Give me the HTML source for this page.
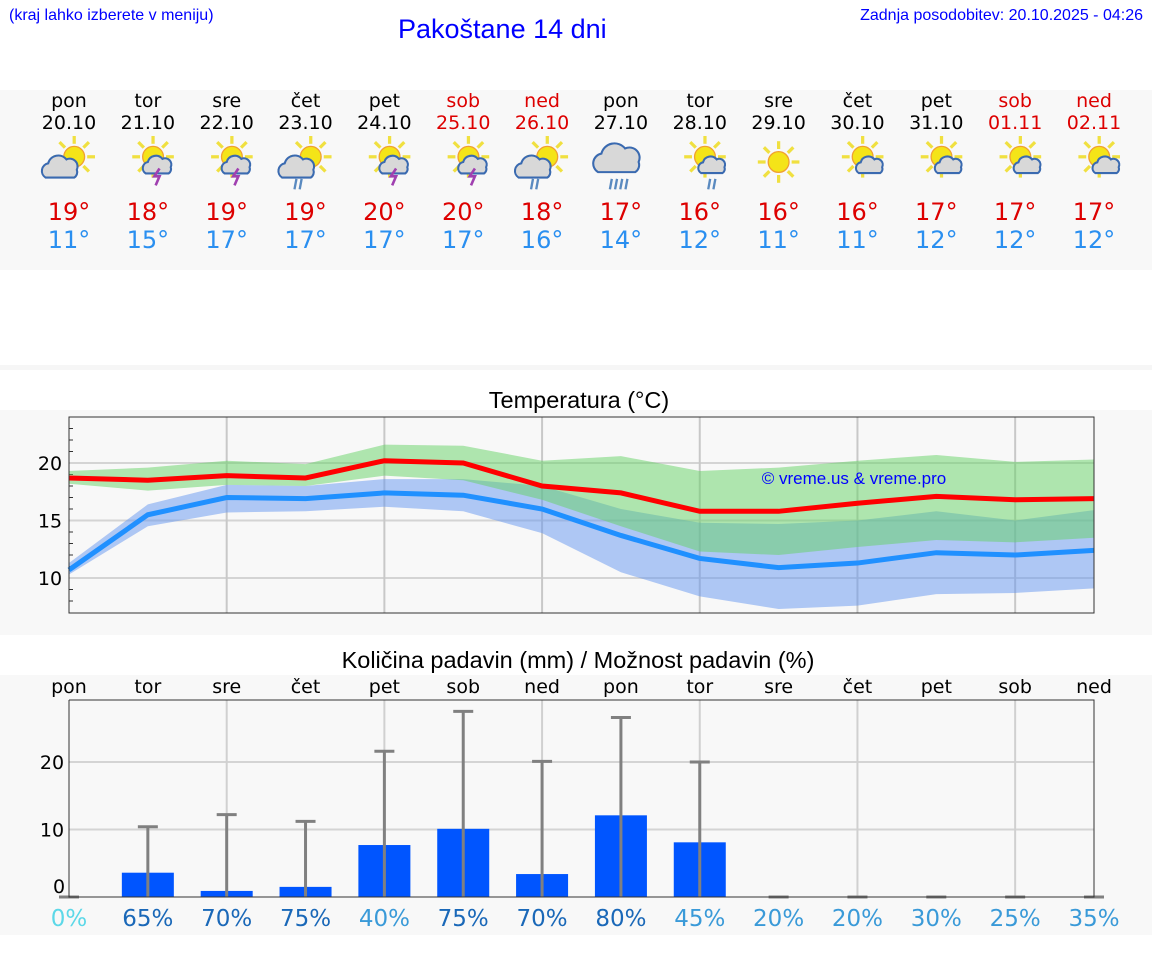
<!DOCTYPE html>
<html><head><meta charset="utf-8"><style>
body{margin:0;width:1152px;height:975px;background:#fff;font-family:"DejaVu Sans","Liberation Sans",sans-serif;position:relative;overflow:hidden}
.a{position:absolute}
</style></head><body>
<div class="a" style="left:9px;top:7px;font-size:16px;color:#00f;font-family:'Liberation Sans',sans-serif">(kraj lahko izberete v meniju)</div>
<div class="a" style="left:398px;top:14px;font-size:27px;color:#00f;font-family:'Liberation Sans',sans-serif">Pakoštane 14 dni</div>
<div class="a" style="right:9px;top:7px;font-size:16px;color:#00f;font-family:'Liberation Sans',sans-serif">Zadnja posodobitev: 20.10.2025 - 04:26</div>
<div class="a" style="left:0;top:90px;width:1152px;height:180px;background:#f8f8f8"></div>
<div class="a" style="left:0;top:365px;width:1152px;height:5px;background:#f6f6f6"></div>
<div class="a" style="left:0;top:410px;width:1152px;height:225px;background:#f8f8f8"></div>
<div class="a" style="left:0;top:675px;width:1152px;height:260px;background:#f8f8f8"></div>
<svg id="chart" class="a" style="left:0;top:0" width="1152" height="975"></svg>
<script>
const dayNames=["pon","tor","sre","čet","pet","sob","ned","pon","tor","sre","čet","pet","sob","ned"];
const dates=["20.10","21.10","22.10","23.10","24.10","25.10","26.10","27.10","28.10","29.10","30.10","31.10","01.11","02.11"];
const hiTemps=[19,18,19,19,20,20,18,17,16,16,16,17,17,17];
const loTemps=[11,15,17,17,17,17,16,14,12,11,11,12,12,12];
const icons=["pc","ts","ts","pr","ts","ts","pr","rain","sr","sun","sc","sc","sc","sc"];
const maxLine=[18.7,18.5,18.9,18.7,20.2,20.0,18.0,17.4,15.8,15.8,16.5,17.1,16.8,16.9];
const maxUpper=[19.3,19.6,20.2,19.9,21.6,21.5,20.2,20.6,19.3,19.6,20.2,20.7,20.1,20.3];
const maxLower=[18.2,17.6,18.1,18.0,18.9,18.5,16.8,14.5,12.3,12.0,12.7,13.3,13.1,13.5];
const minLine=[10.7,15.5,17.0,16.9,17.4,17.2,16.0,13.7,11.7,10.9,11.3,12.2,12.0,12.4];
const minUpper=[11.3,16.4,18.1,18.0,18.6,18.6,18.0,16.0,14.8,14.7,15.0,15.8,15.0,15.9];
const minLower=[10.3,14.5,15.7,15.8,16.2,15.8,13.9,10.5,8.4,7.3,7.6,8.6,8.7,9.1];
const tempTicks=[10,15,20];
const precip=[0,3.6,0.9,1.5,7.7,10.1,3.4,12.1,8.1,0,0,0,0,0];
const precipMax=[0,10.4,12.2,11.2,21.6,27.5,20.1,26.6,20.0,0,0,0,0,0];
const chance=[0,65,70,75,40,75,70,80,45,20,20,30,25,35];
const precipTicks=[0,10,20];

const NS="http://www.w3.org/2000/svg",svg=document.getElementById('chart');
const X0=69,X1=1094,step=(X1-X0)/13;
const xd=i=>X0+i*step;
const ty=v=>463-(v-20)*11.5;
const py=v=>897-v*6.75;
function el(t,a,p){const e=document.createElementNS(NS,t);for(const k in a)e.setAttribute(k,a[k]);(p||svg).appendChild(e);return e;}
function txt(x,y,s,o){const e=el('text',Object.assign({x:x,y:y,'text-anchor':'middle','font-family':'DejaVu Sans, Liberation Sans, sans-serif','font-size':19},o||{}));e.textContent=s;return e;}
const wk=i=>i%7>=5;
dayNames.forEach((d,i)=>{const cx=xd(i);
 let t=txt(cx,107,d,{fill:wk(i)?'#d00':'#000'});
 t=txt(cx,129,dates[i],{fill:wk(i)?'#d00':'#000'});
 t=txt(cx,220,hiTemps[i]+'°',{fill:'#d00','font-size':24});
 t=txt(cx,248,loTemps[i]+'°',{fill:'#2a8ff0','font-size':24});
 const g=el('g',{transform:`translate(${cx},162) scale(1.3)`});
 const k=icons[i];
 if(k!=='rain'){const sx=k==='sun'?0:4,sy=k==='sun'?0:-4;
  for(let a=0;a<8;a++){const an=a*Math.PI/4;el('line',{x1:sx+Math.cos(an)*10,y1:sy+Math.sin(an)*10,x2:sx+Math.cos(an)*16,y2:sy+Math.sin(an)*16,stroke:'#f0e040','stroke-width':2.5},g);}
  el('circle',{cx:sx,cy:sy,r:8,fill:'#f4e418',stroke:'#f0a030','stroke-width':1},g);}
 const cl=(x,y,s)=>{el('path',{d:`M${x-12*s},${y+6*s} a${6*s} ${6*s} 0 0 1 ${2*s},${-11*s} a${8*s} ${8*s} 0 0 1 ${14*s},${-3*s} a${6*s} ${6*s} 0 0 1 ${8*s},${8*s} a${5*s} ${5*s} 0 0 1 ${-2*s},${6*s} z`,fill:'#d8d8d8',stroke:'#3a6ab0','stroke-width':1.6},g);};
 if(k==='pc'||k==='pr')cl(-6,6,1.0);
 if(k==='ts'){cl(8,4,0.8);el('path',{d:'M9,5 l-4,6 h4 l-3,7',stroke:'#a040b0','stroke-width':2,fill:'none'},g);}
 if(k==='sc'||k==='sr')cl(10,4,0.75);
 if(k==='rain'){cl(-2,0,1.3);}
 if(k==='pr'||k==='rain'||k==='sr'){const rx=k==='sr'?8:-7;const n=k==='rain'?4:2;for(let r=0;r<n;r++)el('line',{x1:rx+r*4,y1:13,x2:rx+r*4-1.5,y2:21,stroke:'#5a8ac0','stroke-width':1.8},g);}
});
txt(579,408,'Temperatura (°C)',{'font-size':23.5,'font-family':'Liberation Sans, sans-serif'});
el('rect',{x:X0,y:417,width:X1-X0,height:196,fill:'#f8f8f8'});
tempTicks.forEach(v=>{el('line',{x1:X0,x2:X1,y1:ty(v),y2:ty(v),stroke:'#d4d4d4','stroke-width':2});const t=txt(50,ty(v)+7,v,{'font-size':19});});
for(let v=8;v<=24;v++)if(v%5)el('line',{x1:X0,x2:X0+4,y1:ty(v),y2:ty(v),stroke:'#333','stroke-width':1});
for(let i=2;i<14;i+=2)el('line',{x1:xd(i),x2:xd(i),y1:417,y2:613,stroke:'#c8c8c8','stroke-width':2});
function band(u,l,fill,name){const pts=u.map((v,i)=>xd(i)+','+ty(v)).concat(l.map((v,i)=>xd(i)+','+ty(v)).reverse());const p=el('polygon',{points:pts.join(' '),fill:fill});}
band(minUpper,minLower,'rgba(100,150,240,0.5)','min-temp-band');
band(maxUpper,maxLower,'rgba(100,210,100,0.5)','max-temp-band');
function line(d,c,name){const p=el('polyline',{points:d.map((v,i)=>xd(i)+','+ty(v)).join(' '),fill:'none',stroke:c,'stroke-width':5});}
line(maxLine,'#f00','max-temp-line');line(minLine,'#2090ff','min-temp-line');
el('rect',{x:X0,y:417,width:X1-X0,height:196,fill:'none',stroke:'#333','stroke-width':1});
txt(854,484,'© vreme.us & vreme.pro',{fill:'#00f','font-size':17,'font-family':'Liberation Sans, sans-serif'});
txt(578,668,'Količina padavin (mm) / Možnost padavin (%)',{'font-size':23.5,'font-family':'Liberation Sans, sans-serif'});
dayNames.forEach((d,i)=>{const t=txt(xd(i),693,d,{'font-size':19});});
precipTicks.forEach(v=>{if(v)el('line',{x1:X0,x2:X1,y1:py(v),y2:py(v),stroke:'#d4d4d4','stroke-width':2});const t=txt(v?52:59,py(v)+(v?7:-4),v,{'font-size':19});});
for(let i=2;i<14;i+=2)el('line',{x1:xd(i),x2:xd(i),y1:700,y2:897,stroke:'#d0d0d0','stroke-width':2});
precip.forEach((v,i)=>{if(v>0){const r=el('rect',{x:xd(i)-26,y:py(v),width:52,height:py(0)-py(v),fill:'#0055ff'});}});
precipMax.forEach((v,i)=>{const x=xd(i);el('line',{x1:x,x2:x,y1:py(0),y2:py(v),stroke:'#808080','stroke-width':3});const c=el('line',{x1:x-10,x2:x+10,y1:py(v),y2:py(v),stroke:'#808080','stroke-width':3});});
el('polyline',{points:`${X0},700 ${X0},897 ${X1},897 ${X1},700 ${X0},700`,fill:'none',stroke:'#333','stroke-width':1});
chance.forEach((v,i)=>{const c=v===0?'#5cd8e8':v>=60?'#1a68b8':'#3a9ad8';const t=txt(xd(i),926,v+'%',{fill:c,'font-size':23});});
</script>
</body></html>
